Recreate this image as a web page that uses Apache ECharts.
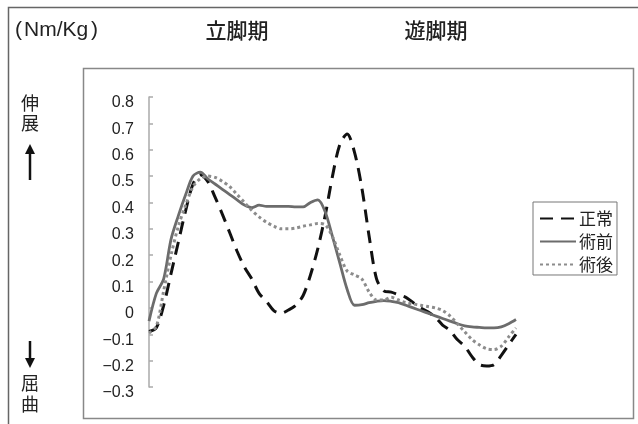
<!DOCTYPE html>
<html><head><meta charset="utf-8">
<script src="https://cdn.jsdelivr.net/npm/echarts@6/dist/echarts.min.js"></script>
<style>html,body{margin:0;padding:0;background:#fff}#c{width:638px;height:424px}</style>
</head><body><div id="c"></div>
<script>
// gait cycle (%) sample positions
var cyclePct = [0,2,4,6,8,10,12,14,16,18,20,22,24,26,28,30,32,34,36,38,40,42,44,46,48,50,52,54,56,58,60,62,64,66,68,70,72,74,76,78,80,82,84,86,88,90,92,94,96,98,100];
// 正常
var normalVals = [-0.089,-0.075,0.01,0.13,0.25,0.37,0.47,0.505,0.48,0.42,0.355,0.285,0.215,0.155,0.11,0.055,0.025,-0.01,-0.02,-0.008,0.01,0.047,0.125,0.225,0.35,0.50,0.62,0.66,0.59,0.455,0.27,0.11,0.065,0.06,0.05,0.04,0.02,0.0,-0.015,-0.035,-0.065,-0.085,-0.12,-0.145,-0.185,-0.215,-0.22,-0.215,-0.18,-0.14,-0.10];
// 術前
var preVals = [-0.05,0.055,0.11,0.26,0.35,0.43,0.50,0.515,0.49,0.47,0.45,0.43,0.41,0.39,0.38,0.39,0.385,0.385,0.385,0.385,0.383,0.383,0.40,0.41,0.365,0.27,0.17,0.07,0.01,0.012,0.02,0.025,0.028,0.025,0.02,0.01,0.0,-0.01,-0.02,-0.03,-0.04,-0.05,-0.06,-0.068,-0.072,-0.074,-0.076,-0.076,-0.072,-0.06,-0.044];
// 術後
var postVals = [-0.095,-0.07,0.065,0.20,0.31,0.39,0.46,0.49,0.50,0.495,0.48,0.46,0.43,0.40,0.37,0.345,0.325,0.31,0.30,0.30,0.303,0.31,0.315,0.32,0.315,0.27,0.20,0.14,0.125,0.11,0.06,0.03,0.03,0.04,0.03,0.02,0.015,0.01,0.005,0.0,-0.01,-0.03,-0.06,-0.09,-0.12,-0.14,-0.155,-0.158,-0.145,-0.11,-0.076];
var seriesNames = ['正常','術前','術後'];
var yTicks = {min:-0.3, max:0.8, step:0.1};

function pairs(vals){ return cyclePct.map(function(x,i){ return [x, vals[i]]; }); }

var chart = echarts.init(document.getElementById('c'));
var cjk = '"Noto Sans CJK JP", "Liberation Sans", sans-serif';
var lat = '"Liberation Sans", Arial, sans-serif';
chart.setOption({
  animation:false,
  backgroundColor:'#fff',
  grid:{left:149, right:122, top:97, height:290},
  xAxis:{type:'value', min:0, max:100, show:false},
  yAxis:{type:'value', min:yTicks.min, max:yTicks.max, interval:yTicks.step,
    axisLine:{show:true, lineStyle:{color:'#aaa', width:1.5}},
    axisTick:{show:true, inside:true, length:4, lineStyle:{color:'#aaa', width:1.5}},
    splitLine:{show:false},
    axisLabel:{margin:15, color:'#222', fontSize:16, fontFamily:lat, verticalAlign:'top', lineHeight:12,
      formatter:function(v){ var r=Math.round(v*10)/10; if(r===0) return '0'; return r.toFixed(1).replace('-','\u2212'); }}
  },
  legend:{
    left:533, top:202, orient:'vertical', width:95,
    borderColor:'#777', borderWidth:1, padding:[8,4,2,6], itemGap:6,
    itemWidth:36, itemHeight:14,
    itemStyle:{opacity:0},
    textStyle:{fontSize:17, color:'#222', fontFamily:cjk, padding:[0,0,0,-2]},
    data:seriesNames
  },
  series:[
    {name:seriesNames[0], type:'line', data:pairs(normalVals), symbol:'none', smooth:0.3,
      lineStyle:{color:'#111', width:3, type:[13,8]}, itemStyle:{color:'#111'}},
    {name:seriesNames[1], type:'line', data:pairs(preVals), symbol:'none', smooth:0.3,
      lineStyle:{color:'#6c6c6c', width:2.8, type:'solid'}, itemStyle:{color:'#6c6c6c'}},
    {name:seriesNames[2], type:'line', data:pairs(postVals), symbol:'none', smooth:0.3,
      lineStyle:{color:'#8c8c8c', width:3, type:[3,3]}, itemStyle:{color:'#8c8c8c'}}
  ],
  graphic:[
    {type:'rect', shape:{x:8.5, y:7.5, width:700, height:500}, style:{fill:null, stroke:'#666', lineWidth:1.5}, silent:true},
    {type:'rect', shape:{x:83.5, y:68.5, width:550, height:350}, style:{fill:null, stroke:'#888', lineWidth:1.5}, silent:true},
    {type:'text', x:15, y:30, style:{text:'(', font:'21px '+lat, fill:'#222', textVerticalAlign:'middle'}},
    {type:'text', x:24, y:30, style:{text:'Nm/Kg', font:'21px '+lat, fill:'#222', textVerticalAlign:'middle'}},
    {type:'text', x:91, y:30, style:{text:')', font:'21px '+lat, fill:'#222', textVerticalAlign:'middle'}},
    {type:'text', x:237, y:30, style:{text:'立脚期', font:'500 21px '+cjk, fill:'#222', textAlign:'center', textVerticalAlign:'middle'}},
    {type:'text', x:436, y:30, style:{text:'遊脚期', font:'500 21px '+cjk, fill:'#222', textAlign:'center', textVerticalAlign:'middle'}},
    {type:'text', x:30, y:103, style:{text:'伸', font:'18px '+cjk, fill:'#222', textAlign:'center', textVerticalAlign:'middle'}},
    {type:'text', x:30, y:123, style:{text:'展', font:'18px '+cjk, fill:'#222', textAlign:'center', textVerticalAlign:'middle'}},
    {type:'text', x:30, y:383, style:{text:'屈', font:'18px '+cjk, fill:'#222', textAlign:'center', textVerticalAlign:'middle'}},
    {type:'text', x:30, y:404, style:{text:'曲', font:'18px '+cjk, fill:'#222', textAlign:'center', textVerticalAlign:'middle'}},
    {type:'line', shape:{x1:30, y1:152, x2:30, y2:180}, style:{stroke:'#111', lineWidth:2.5}},
    {type:'polygon', shape:{points:[[25,154],[35,154],[30,144]]}, style:{fill:'#111'}},
    {type:'line', shape:{x1:30, y1:341, x2:30, y2:360}, style:{stroke:'#111', lineWidth:2.5}},
    {type:'polygon', shape:{points:[[25,358],[35,358],[30,368]]}, style:{fill:'#111'}}
  ]
});
</script></body></html>
